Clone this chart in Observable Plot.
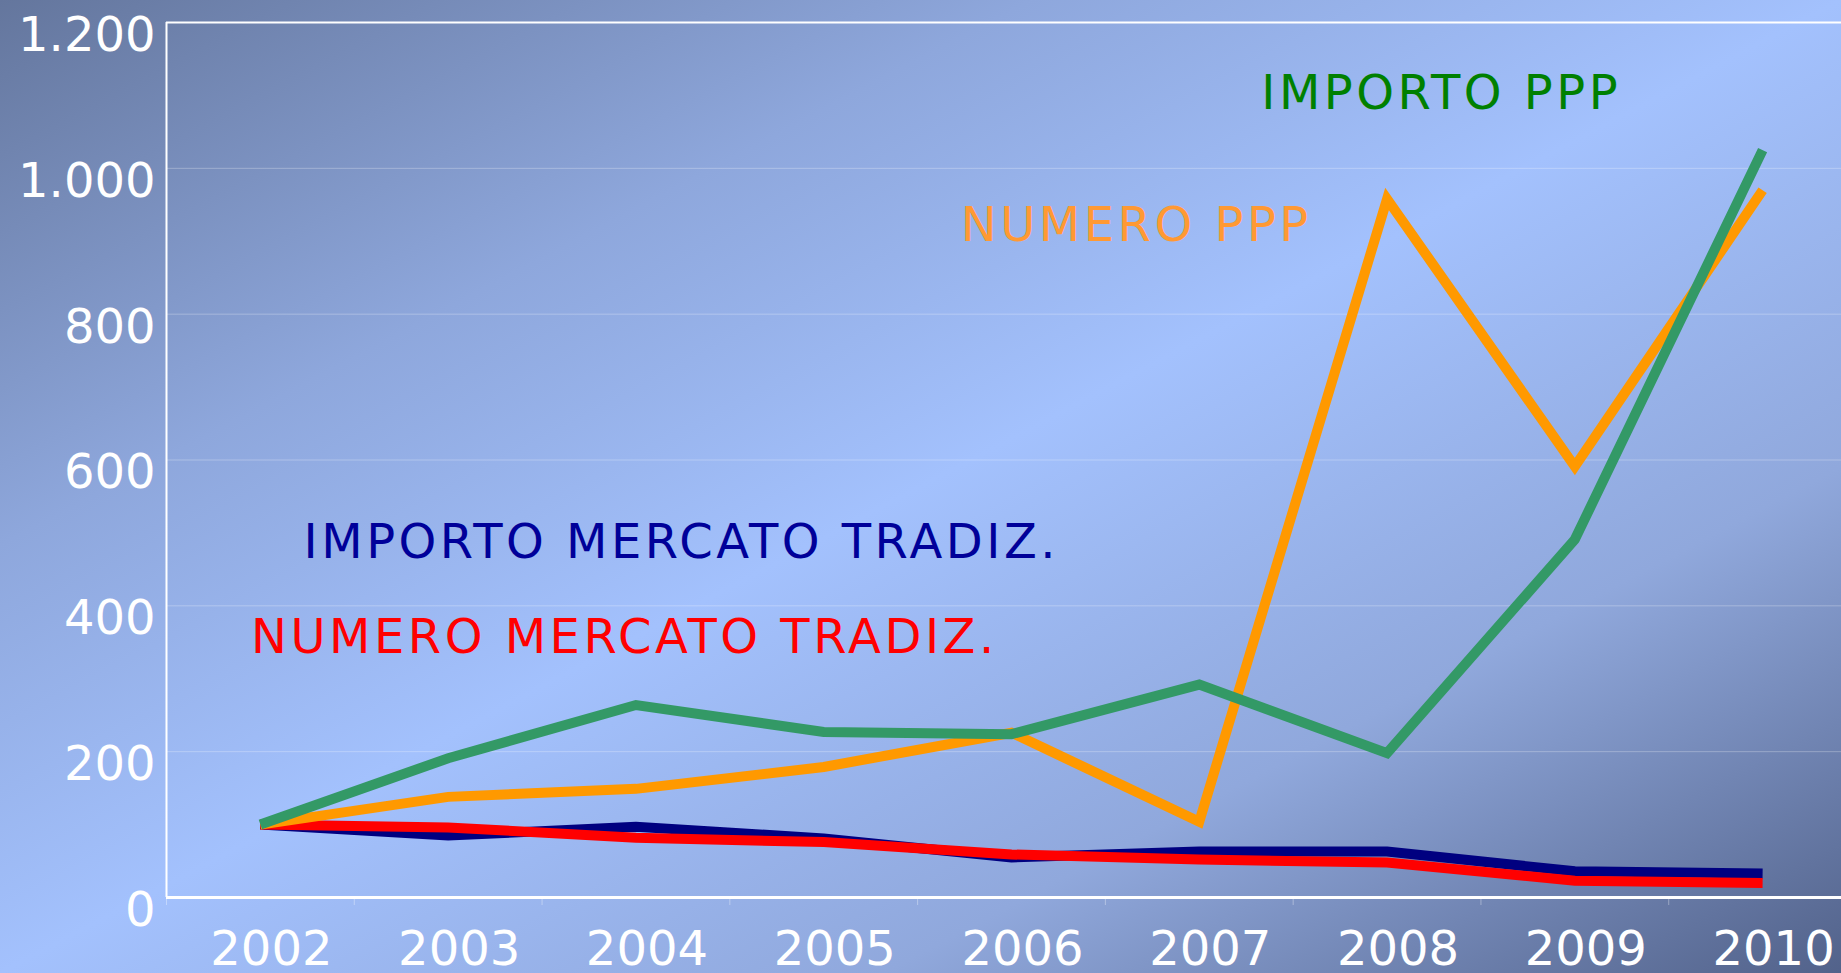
<!DOCTYPE html>
<html><head><meta charset="utf-8">
<script src="https://cdn.jsdelivr.net/npm/d3@7"></script>
<script src="https://cdn.jsdelivr.net/npm/@observablehq/plot@0.6"></script>
<style>
html,body{margin:0;padding:0;width:1841px;height:973px;overflow:hidden;}
body{background:linear-gradient(to bottom right,#64769d 0%,#8ea7dc 28%,#a3c1fd 50%,#90a8dc 74%,#52628a 100%);}
.lbl text{letter-spacing:3.5px;}
</style></head><body><div id="chart"></div>
<script>
const years = [2002, 2003, 2004, 2005, 2006, 2007, 2008, 2009, 2010];
const importoPPP = [100, 191, 264, 227, 224, 292, 198, 491, 1025];
const numeroPPP = [100, 138, 149, 179, 226, 104, 958, 591, 970];
const importoMercato = [100, 85, 97, 81, 55, 63, 63, 36, 33];
const numeroMercato = [100, 96, 82, 76, 59, 52, 48, 23, 20];
const yTicks = [0, 200, 400, 600, 800, 1000, 1200];
const seriesNames = ["IMPORTO PPP", "NUMERO PPP", "IMPORTO MERCATO TRADIZ.", "NUMERO MERCATO TRADIZ."];

const rows = (name, vals) => years.map((year, i) => ({series: name, year, value: vals[i]}));
const sImpPPP = rows(seriesNames[0], importoPPP);
const sNumPPP = rows(seriesNames[1], numeroPPP);
const sImpMer = rows(seriesNames[2], importoMercato);
const sNumMer = rows(seriesNames[3], numeroMercato);

const itFmt = d3.formatLocale({decimal: ",", thousands: ".", grouping: [3], currency: ["€", ""]}).format(",d");
const bounds = years.map(y => y - 0.5).concat([years[years.length - 1] + 0.5]);
const font = "DejaVu Sans, sans-serif";
const lineOpts = {x: "year", y: "value", strokeWidth: 10, strokeLinejoin: "miter", strokeLinecap: "butt", strokeMiterlimit: 10};

const chart = Plot.plot({
  width: 1841,
  height: 973,
  marginLeft: 166,
  marginTop: 22,
  marginBottom: 76,
  marginRight: 0,
  style: {background: "transparent", color: "white", fontFamily: font, overflow: "hidden"},
  x: {domain: [bounds[0], bounds[bounds.length - 1]], range: [166, 1856], label: null},
  y: {domain: [0, 1200], label: null},
  marks: [
    Plot.gridY(yTicks.slice(1, -1), {stroke: "white", strokeOpacity: 0.28, strokeWidth: 1}),
    Plot.axisY({ticks: yTicks, tickFormat: itFmt, tickSize: 0, tickPadding: 11, dy: 13, fontSize: 48, fill: "white", fontFamily: font, label: null}),
    Plot.axisX({ticks: years, tickFormat: d => String(d), tickSize: 0, tickPadding: 33, dx: 11, fontSize: 48, fill: "white", fontFamily: font, label: null}),
    Plot.axisX({ticks: bounds, tickFormat: () => "", tickSize: 8, stroke: "white", strokeOpacity: 0.35, label: null}),
    Plot.ruleY([0], {stroke: "white", strokeWidth: 3}),
    Plot.ruleY([1200], {stroke: "white", strokeWidth: 2}),
    Plot.ruleX([bounds[0]], {stroke: "white", strokeWidth: 2}),
    Plot.line(sImpMer, {...lineOpts, stroke: "#000080"}),
    Plot.line(sNumMer, {...lineOpts, stroke: "#ff0000"}),
    Plot.line(sNumPPP, {...lineOpts, stroke: "#ff9900"}),
    Plot.line(sImpPPP, {...lineOpts, stroke: "#339966"}),
    Plot.text([seriesNames[0]], {x: 2007.33, y: 1082, text: d => d, textAnchor: "start", lineAnchor: "bottom", fill: "#008000", fontSize: 48, fontFamily: font, className: "lbl"}),
    Plot.text([seriesNames[1]], {x: 2005.73, y: 900, text: d => d, textAnchor: "start", lineAnchor: "bottom", fill: "#ff9933", fontSize: 48, fontFamily: font, className: "lbl"}),
    Plot.text([seriesNames[2]], {x: 2002.23, y: 465, text: d => d, textAnchor: "start", lineAnchor: "bottom", fill: "#000099", fontSize: 48, fontFamily: font, className: "lbl"}),
    Plot.text([seriesNames[3]], {x: 2001.95, y: 335, text: d => d, textAnchor: "start", lineAnchor: "bottom", fill: "#ff0000", fontSize: 48, fontFamily: font, className: "lbl"})
  ]
});
document.getElementById("chart").appendChild(chart);
</script></body></html>
